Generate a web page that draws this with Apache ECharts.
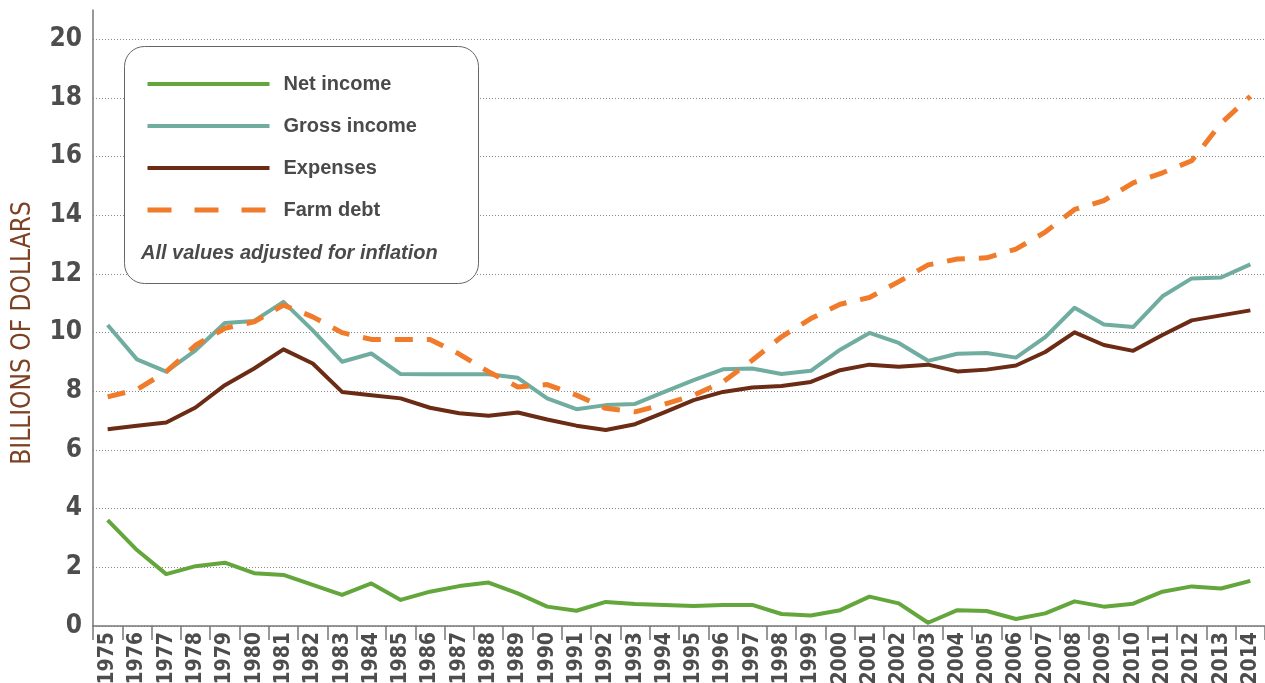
<!DOCTYPE html>
<html>
<head>
<meta charset="utf-8">
<script src="https://cdn.jsdelivr.net/npm/echarts@6/dist/echarts.min.js"></script>
<style>
html,body{margin:0;padding:0;background:#fff;}
#chart{width:1265px;height:683px;}
</style>
</head>
<body>
<div id="chart"></div>
<script>
var years = ['1975','1976','1977','1978','1979','1980','1981','1982','1983','1984','1985','1986','1987','1988','1989','1990','1991','1992','1993','1994','1995','1996','1997','1998','1999','2000','2001','2002','2003','2004','2005','2006','2007','2008','2009','2010','2011','2012','2013','2014'];
var netIncome = [3.61,2.59,1.77,2.04,2.16,1.80,1.74,1.40,1.06,1.45, 0.89,1.17,1.36,1.48,1.11,0.66,0.52,0.82,0.75,0.72, 0.68,0.72,0.72,0.41,0.36,0.54,1.00,0.77,0.11,0.54, 0.51,0.24,0.43,0.84,0.66,0.76,1.17,1.35,1.28,1.54];
var grossIncome = [10.26,9.09,8.67,9.40,10.33,10.40,11.05,10.08,9.01,9.29, 8.59,8.58,8.58,8.58,8.46,7.76,7.39,7.53,7.57,7.98, 8.38,8.75,8.78,8.59,8.70,9.42,9.99,9.65,9.04,9.28, 9.31,9.15,9.85,10.85,10.28,10.19,11.24,11.85,11.88,12.33];
var expenses = [6.71,6.83,6.94,7.45,8.21,8.78,9.43,8.95,7.98,7.87, 7.76,7.44,7.25,7.17,7.28,7.04,6.83,6.68,6.88,7.28, 7.70,7.98,8.13,8.18,8.32,8.72,8.91,8.84,8.91,8.68, 8.74,8.88,9.34,10.01,9.58,9.38,9.92,10.42,10.59,10.76];
var farmDebt = [7.81,8.06,8.67,9.57,10.15,10.37,10.94,10.54,10.00,9.77, 9.77,9.77,9.27,8.67,8.15,8.23,7.87,7.42,7.30,7.56, 7.87,8.32,9.06,9.86,10.48,10.97,11.20,11.74,12.31,12.51, 12.55,12.85,13.43,14.20,14.50,15.11,15.45,15.86,17.14,18.06];
var seriesNames = ['Net income','Gross income','Expenses','Farm debt'];
var noteText = 'All values adjusted for inflation';
var axisTitle = 'BILLIONS OF DOLLARS';

var NARROW = '"Liberation Sans Narrow","Arial Narrow","DejaVu Sans Condensed",sans-serif';
var SANS = '"Liberation Sans",Arial,sans-serif';
var C_GREEN = '#63a63c', C_TEAL = '#70ada0', C_BROWN = '#6b2b14', C_ORANGE = '#f07b2b';
var NO_SYMBOL = {color: 'rgba(0,0,0,0)', borderColor: 'rgba(0,0,0,0)', borderWidth: 0, opacity: 0};

var chart = echarts.init(document.getElementById('chart'), null, {renderer:'canvas'});
function lineSeries(name, data, color, width, type){
  return {
    name: name, type: 'line', data: data, symbol: 'none', showSymbol: false,
    smooth: false, z: 2,
    lineStyle: {color: color, width: width, type: type || 'solid', cap: 'butt', join: 'round'},
    itemStyle: {color: color}
  };
}
chart.setOption({
  animation: false,
  backgroundColor: '#fff',
  grid: {left: 93, right: 0, top: 10, bottom: 57, containLabel: false, outerBoundsMode: 'none'},
  xAxis: {
    type: 'category', data: years, boundaryGap: true,
    axisLine: {show: true, lineStyle: {color: '#777', width: 1.5}},
    axisTick: {show: true, length: 14, lineStyle: {color: '#777', width: 1.5}},
    axisLabel: {rotate: 90, margin: 6, interval: 0, color: '#4d4d4d', fontFamily: NARROW, fontWeight: 'bold', fontSize: 21}
  },
  yAxis: {
    type: 'value', min: 0, max: 21, interval: 2,
    axisLine: {show: true, lineStyle: {color: '#777', width: 1.5}},
    axisTick: {show: false},
    axisLabel: {margin: 11, color: '#4d4d4d', fontFamily: NARROW, fontWeight: 'bold', fontSize: 26,
      formatter: function(v){ return v > 20 ? '' : String(v); }},
    splitLine: {show: true, showMaxLine: false, lineStyle: {color: '#888', width: 1, type: [1, 2]}}
  },
  legend: {
    orient: 'vertical', left: 140, top: 69, z: 5,
    itemWidth: 122, itemHeight: 14, itemGap: 22,
    itemStyle: NO_SYMBOL,
    textStyle: {color: '#4a4a4a', fontFamily: SANS, fontWeight: 'bold', fontSize: 20, padding: [0, 0, 0, 9]},
    data: [
      {name: seriesNames[0], itemStyle: NO_SYMBOL, lineStyle: {width: 4}},
      {name: seriesNames[1], itemStyle: NO_SYMBOL, lineStyle: {width: 4}},
      {name: seriesNames[2], itemStyle: NO_SYMBOL, lineStyle: {width: 4}},
      {name: seriesNames[3], itemStyle: NO_SYMBOL, lineStyle: {width: 5, type: [24, 23]}}
    ],
    selectedMode: false
  },
  graphic: [
    {type: 'rect', left: 124, top: 46, z: 4,
     shape: {width: 354, height: 237, r: 20},
     style: {fill: '#fff', stroke: '#666', lineWidth: 1}},
    {type: 'text', left: 141, top: 243, z: 5,
     style: {text: noteText, fill: '#4a4a4a', font: 'italic bold 20px "Liberation Sans", Arial, sans-serif'}},
    {type: 'text', x: 23, y: 333, rotation: Math.PI / 2, z: 5,
     style: {text: axisTitle, fill: '#7d4124', align: 'center', verticalAlign: 'middle',
       font: 'normal 26px "Liberation Sans Narrow","Arial Narrow","DejaVu Sans Condensed",sans-serif'}}
  ],
  series: [
    lineSeries(seriesNames[0], netIncome, C_GREEN, 4),
    lineSeries(seriesNames[1], grossIncome, C_TEAL, 4),
    lineSeries(seriesNames[2], expenses, C_BROWN, 4),
    lineSeries(seriesNames[3], farmDebt, C_ORANGE, 5, [18, 14])
  ]
});
</script>
</body>
</html>
